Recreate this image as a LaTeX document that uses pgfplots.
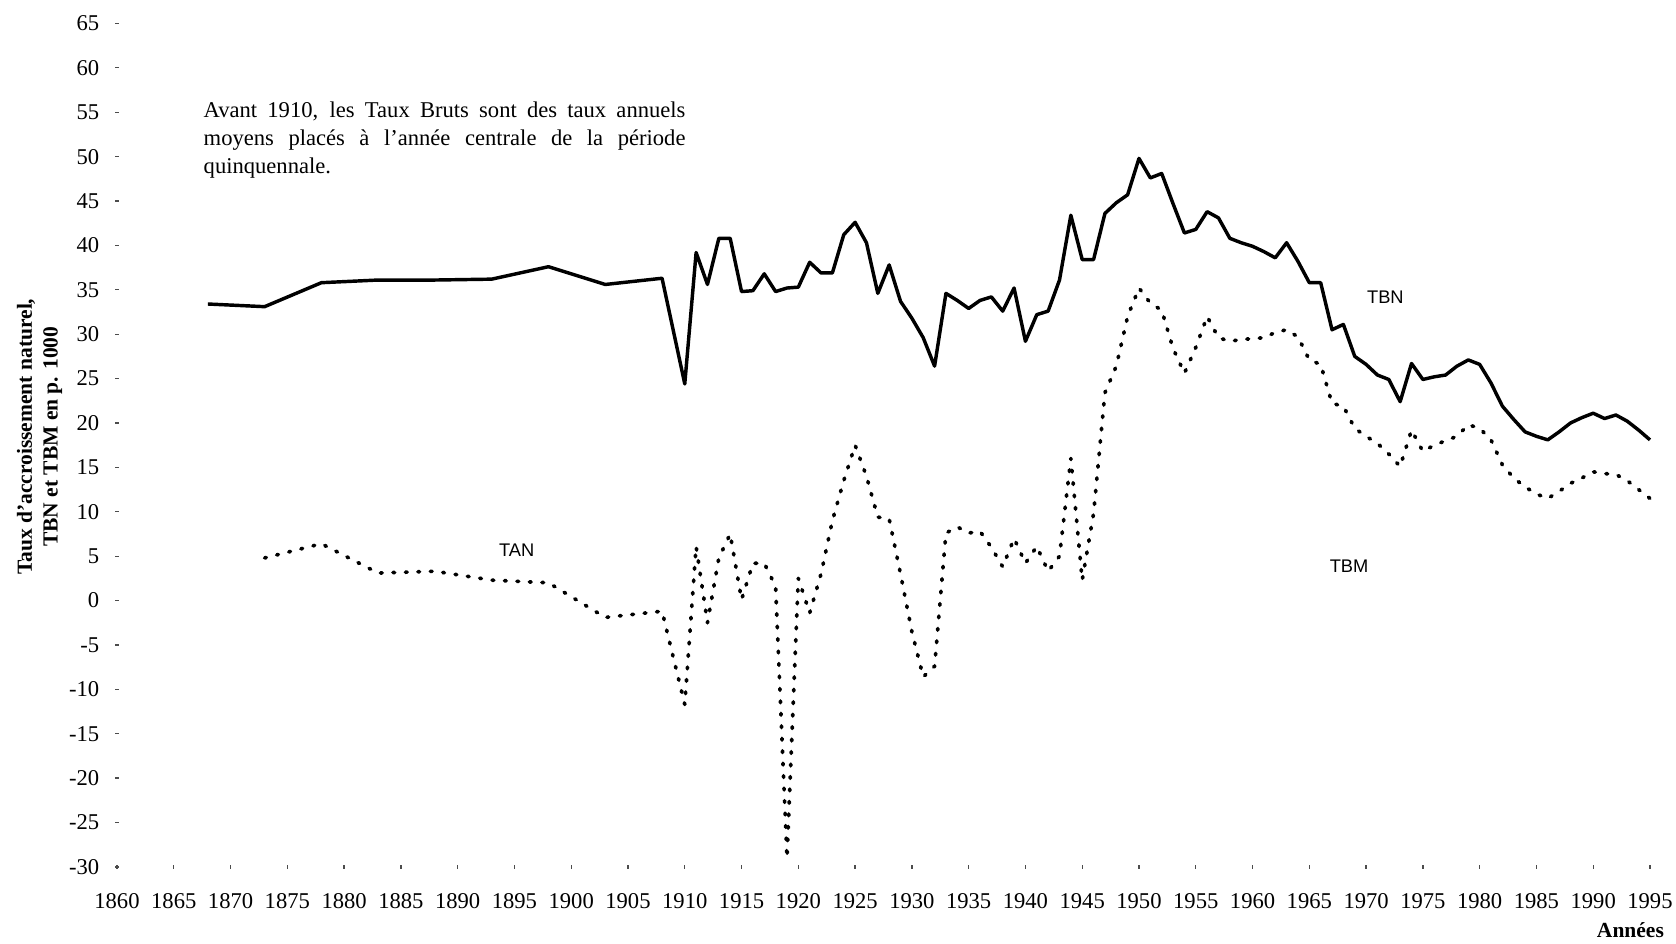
\documentclass[border=0pt]{standalone}
\usepackage{fontspec}
\setmainfont{Liberation Serif}
\newfontfamily\arial{Liberation Sans}
\usepackage{pgfplots}
\pgfplotsset{compat=1.18}
\begin{document}
\begin{tikzpicture}
\begin{axis}[name=ax, scale only axis, width=712.8pt, height=392.2pt,
  xmin=1860, xmax=1995, ymin=-30, ymax=65,
  axis line style={draw=none},
  xtick={1860,1865,...,1995}, ytick={-30,-25,...,65},
  xtick pos=bottom, ytick pos=left,
  tick style={black!70, line width=0.6pt}, major tick length=1.5pt, tick align=center,
  /pgf/number format/assume math mode=true,
  xticklabel style={/pgf/number format/1000 sep={}, yshift=-8pt},
  yticklabel style={xshift=-4pt},
  tick label style={font=\fontsize{10.5}{12}\selectfont},
  clip=false]
% TBN
\addplot[black, line width=1.6pt, line join=round] coordinates {
(1868,33.4)(1873,33.1)(1878,35.8)(1883,36.1)(1888,36.1)(1893,36.2)(1898,37.6)(1903,35.6)(1908,36.3)
(1910,24.4)(1911,39.2)(1912,35.6)(1913,40.8)(1914,40.8)(1915,34.8)(1916,34.9)(1917,36.8)(1918,34.8)(1919,35.2)
(1920,35.3)(1921,38.1)(1922,36.9)(1923,36.9)(1924,41.2)(1925,42.6)(1926,40.3)(1927,34.6)(1928,37.8)(1929,33.7)
(1930,31.8)(1931,29.6)(1932,26.4)(1933,34.6)(1934,33.8)(1935,32.9)(1936,33.8)(1937,34.2)(1938,32.6)(1939,35.2)
(1940,29.2)(1941,32.2)(1942,32.6)(1943,36.1)(1944,43.4)(1945,38.4)(1946,38.4)(1947,43.6)(1948,44.8)(1949,45.7)
(1950,49.8)(1951,47.6)(1952,48.1)(1953,44.7)(1954,41.4)(1955,41.8)(1956,43.8)(1957,43.1)(1958,40.8)(1959,40.3)
(1960,39.9)(1961,39.3)(1962,38.6)(1963,40.3)(1964,38.2)(1965,35.8)(1966,35.8)(1967,30.5)(1968,31.1)(1969,27.5)
(1970,26.6)(1971,25.4)(1972,24.9)(1973,22.4)(1974,26.7)(1975,24.9)(1976,25.2)(1977,25.4)(1978,26.4)(1979,27.1)
(1980,26.6)(1981,24.5)(1982,21.9)(1983,20.4)(1984,19.0)(1985,18.5)(1986,18.1)(1987,19.0)(1988,20.0)(1989,20.6)
(1990,21.1)(1991,20.5)(1992,20.9)(1993,20.2)(1994,19.2)(1995,18.1)
};
% TAN
\addplot[black, line width=1.7pt, line cap=round, line join=round, dash pattern={on 0.8pt off 5pt}] coordinates {
(1873,4.8)(1878,6.4)(1883,3.1)(1888,3.3)(1893,2.3)(1898,2.0)(1903,-1.9)(1908,-1.2)
(1910,-11.7)(1911,6.1)(1912,-2.5)(1913,4.8)(1914,7.5)(1915,0.1)(1916,4.2)(1917,4.2)(1918,1.6)(1919,-29.0)
(1920,2.5)(1921,-1.4)(1922,3.0)(1923,9.0)(1924,13.5)(1925,17.5)(1926,14.0)(1927,9.4)(1928,9.2)(1929,3.0)
(1930,-3.5)(1931,-8.6)(1932,-7.4)(1933,7.6)(1934,8.3)(1935,7.6)(1936,7.8)(1937,6.0)(1938,3.8)(1939,7.0)
(1940,4.2)(1941,6.1)(1942,3.3)(1943,5.0)(1944,16.0)(1945,2.3)(1946,9.8)(1947,23.4)(1948,26.4)(1949,32.0)
(1950,35.2)(1951,33.5)(1952,32.7)(1953,28.4)(1954,25.6)(1955,28.5)(1956,32.0)(1957,29.6)(1958,29.2)(1959,29.4)
(1960,29.5)(1961,29.6)(1962,30.2)(1963,30.5)(1964,29.7)(1965,27.1)(1966,26.6)(1967,22.2)(1968,21.9)(1969,19.4)
(1970,18.5)(1971,17.7)(1972,16.5)(1973,15.1)(1974,19.2)(1975,16.8)(1976,17.5)(1977,18.0)(1978,18.5)(1979,19.8)
(1980,19.4)(1981,18.1)(1982,15.3)(1983,13.8)(1984,12.8)(1985,12.0)(1986,11.5)(1987,12.3)(1988,13.2)(1989,13.8)
(1990,14.5)(1991,14.3)(1992,14.2)(1993,13.5)(1994,12.5)(1995,11.5)
};
\node[font=\arial\fontsize{8.5}{10}\selectfont] at (axis cs:1971.7,34.2) {TBN};
\node[font=\arial\fontsize{8.5}{10}\selectfont] at (axis cs:1895.2,5.7) {TAN};
\node[font=\arial\fontsize{8.5}{10}\selectfont] at (axis cs:1968.5,3.85) {TBM};
\node[anchor=north west, inner sep=0pt, text width=224pt, align=justify,
  font=\fontsize{10.5}{13}\selectfont] at (axis cs:1867.6,56.2)
  {Avant 1910, les Taux Bruts sont des taux annuels moyens placés à l'année centrale de la période \mbox{quinquennale.}};
\node[xshift=-36pt, rotate=90, align=center, font=\bfseries\fontsize{10}{12}\selectfont]
  at (rel axis cs:0,0.51) {Taux d'accroissement naturel,\\TBN et TBM en p. 1000};
\node[anchor=east, xshift=10pt, yshift=-29.3pt, font=\bfseries\fontsize{10}{12}\selectfont]
  at (rel axis cs:1,0) {Années};
\end{axis}
\pgfresetboundingbox
\path[use as bounding box] ([xshift=-54.4pt,yshift=10.9pt]ax.north west) rectangle ([xshift=12.1pt,yshift=-35.8pt]ax.south east);
\end{tikzpicture}
\end{document}
